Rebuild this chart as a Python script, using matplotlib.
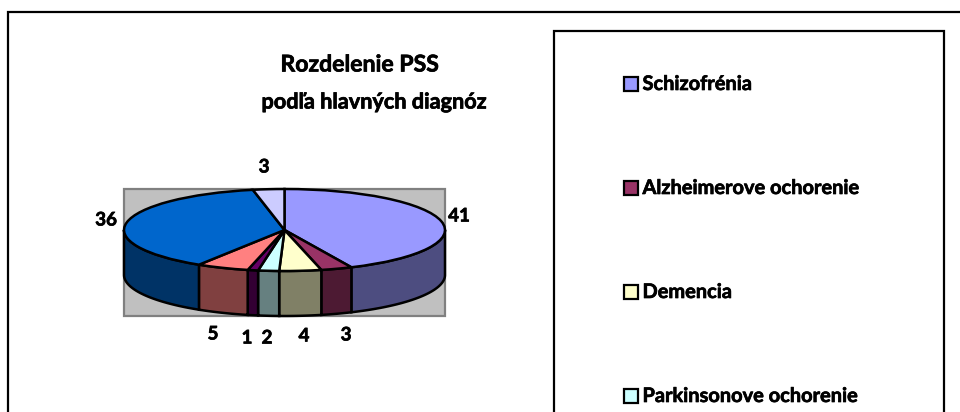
import numpy as np
import matplotlib
matplotlib.use("Agg")
import matplotlib.pyplot as plt
import matplotlib.patheffects as pe
from matplotlib.patches import Rectangle

W, H = 960, 412

labels = ["Schizofrénia", "Alzheimerove ochorenie", "Demencia", "Parkinsonove ochorenie"]
values = [41, 3, 4, 2, 1, 5, 36, 3]
top_colors = ["#9999FF", "#993366", "#FFFFCC", "#CCFFFF", "#660066", "#FF8080", "#0066CC", "#CCCCFF"]
side_colors = ["#4D4D80", "#4D1A33", "#808066", "#668080", "#330033", "#804040", "#003366", "#666680"]

title_lines = ["Rozdelenie PSS", "podľa hlavných diagnóz"]

# pie placement in pixels
cx, cy, rx, ry, depth = 284.5, 230, 160.5, 41, 45
depth_u = depth / ry

plt.rcParams['font.family'] = ['Lato', 'DejaVu Sans']
fig = plt.figure(figsize=(W / 100, H / 100), dpi=100, facecolor="white")

# Lato bold is a bit light next to the original font
heavy = [pe.withStroke(linewidth=0.5, foreground="black")]

# pixel overlay for frame, legend and texts
px = fig.add_axes([0, 0, 1, 1], zorder=0)
px.set_xlim(0, W)
px.set_ylim(H, 0)
px.axis("off")
px.plot([8, 8, W], [H, 12, 12], color="black", lw=1.6, solid_joinstyle="miter")
px.add_patch(Rectangle((124, 188.5), 321, 127.5, fc="#C0C0C0", ec="#808080", lw=1.6))

# pie axes: unit circle squashed to the ellipse
ax = fig.add_axes([0, 0, 1, 1], zorder=1)
ax.patch.set_alpha(0)

cum = np.concatenate([[0], np.cumsum(values)]) / sum(values) * 2 * np.pi
for i in range(len(values)):
    a0, a1 = max(cum[i], np.pi / 2), min(cum[i + 1], 3 * np.pi / 2)
    if a1 <= a0:
        continue
    t = np.linspace(a0, a1, 60)
    xs = np.concatenate([np.sin(t), np.sin(t[::-1])])
    ys = np.concatenate([np.cos(t), np.cos(t[::-1]) - depth_u])
    ax.fill(xs, ys, fc=side_colors[i], ec="black", lw=1.8)

ax.pie(values, colors=top_colors, startangle=90, counterclock=False, radius=1, center=(0, 0),
       wedgeprops=dict(edgecolor="black", linewidth=1.8), frame=True)
ax.set_aspect("auto")
ax.set_xlim(-cx / rx, (W - cx) / rx)
ax.set_ylim((cy - H) / ry, cy / ry)
ax.axis("off")

# data labels
label_xy = [(459, 216), (346, 335), (304, 336), (267, 338), (247, 338), (213, 334), (106, 220), (264, 167)]
over = fig.add_axes([0, 0, 1, 1], zorder=2)
over.set_xlim(0, W)
over.set_ylim(H, 0)
over.axis("off")
over.patch.set_alpha(0)
for v, (x, y) in zip(values, label_xy):
    over.text(x, y, str(v), ha="center", va="center", fontsize=13.5, fontweight="bold",
              color="black", path_effects=heavy)

# title
over.text(359.5, 65, title_lines[0], ha="center", va="center", fontsize=16.6, fontweight="bold", path_effects=heavy)
over.text(374.5, 102, title_lines[1], ha="center", va="center", fontsize=15.6, fontweight="bold", path_effects=heavy)

# legend box runs off the bottom of the picture
over.add_patch(Rectangle((554, 31), 390, 500, fc="white", ec="black", lw=1.6))
for i, name in enumerate(labels):
    y = 83.5 + i * 104
    over.add_patch(Rectangle((623.5, y - 7), 14.5, 14, fc=top_colors[i], ec="black", lw=1.6))
    over.text(642.5, y + 0.5, name, ha="left", va="center", fontsize=14.4, fontweight="bold", path_effects=heavy)

fig.savefig("out.png", dpi=100)
